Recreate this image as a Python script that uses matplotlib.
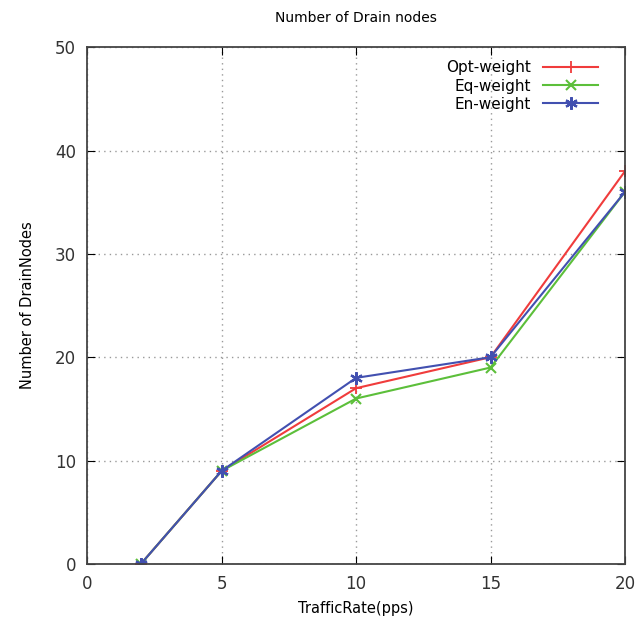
import matplotlib
matplotlib.use('Agg')
import matplotlib.pyplot as plt

# traffic rate (pps) and number of drain nodes per weighting scheme
traffic_rate = [2, 5, 10, 15, 20]
opt_weight = [0, 9, 17, 20, 38]
eq_weight = [0, 9, 16, 19, 36]
en_weight = [0, 9, 18, 20, 36]

fig = plt.figure(figsize=(6.41, 6.21), dpi=100)
ax = fig.add_axes([0.136, 0.092, 0.839, 0.832])

ax.plot(traffic_rate, opt_weight, color='#f03c3c', marker='+', ms=9, mew=1.3, lw=1.5, label='Opt-weight')
ax.plot(traffic_rate, eq_weight, color='#5cbf3a', marker='x', ms=7, mew=1.5, lw=1.5, label='Eq-weight')
ax.plot(traffic_rate, en_weight, color='#4250b0', marker=(6, 2, 0), ms=9, mew=1.6, lw=1.5, label='En-weight')

ax.set_xlim(0, 20)
ax.set_ylim(0, 50)
ax.set_xticks([0, 5, 10, 15, 20])
ax.set_yticks([0, 10, 20, 30, 40, 50])
ax.grid(True, linestyle=(0, (1, 3)), color='#999999', lw=1)
ax.tick_params(direction='in', top=True, right=True, length=6, labelsize=12, labelcolor='#333333', pad=8)
for s in ax.spines.values():
    s.set_color('#444444')
    s.set_linewidth(1.3)

ax.set_title('Number of Drain nodes', fontsize=10, pad=18)
ax.set_xlabel('TrafficRate(pps)', fontsize=10.5, labelpad=6)
ax.set_ylabel('Number of DrainNodes', fontsize=10.5, labelpad=14)

ax.legend(loc='upper right', bbox_to_anchor=(0.97, 0.995), frameon=False, markerfirst=False,
          fontsize=11, handlelength=3.6, borderaxespad=0.3, labelspacing=0.2)

fig.savefig('out.png', dpi=100)
